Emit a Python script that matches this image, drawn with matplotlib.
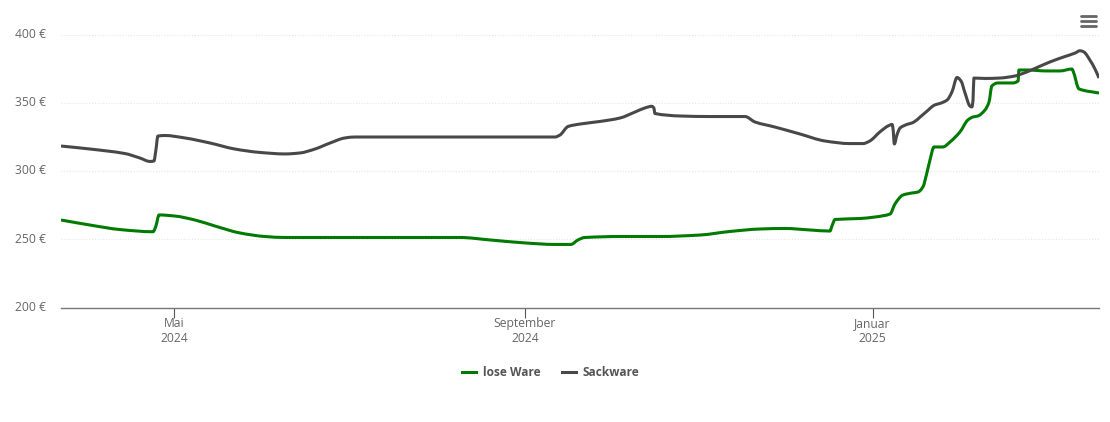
import matplotlib
matplotlib.use('Agg')
import numpy as np
import matplotlib.pyplot as plt
from matplotlib.lines import Line2D
from matplotlib.path import Path
from matplotlib.patches import PathPatch

plt.rcParams['font.family'] = ['Open Sans', 'DejaVu Sans']

# x values are days counted from 1 May 2024
days_sack = [-39.8, -29.6, -17.4, -12.1, -8.6, -7.2, -6.5, -5.8, -3.3, 3.7, 12.5, 21.2, 30.0, 38.8, 44.0,
             49.3, 54.6, 59.8, 63.3, 79.1, 133.5, 135.3, 138.1, 142.3, 149.3, 156.3, 161.6, 165.1, 167.5,
             168.2, 168.6, 177.4, 187.9, 200.2, 203.7, 210.7, 219.5, 228.2, 237.0, 241.6, 244.0, 247.5,
             250.4, 251.8, 252.1, 252.6, 253.5, 254.6, 257.4, 258.8, 263.3, 266.8, 268.6, 271.1, 272.8,
             274.6, 276.0, 277.4, 279.1, 279.8, 280.2, 280.5, 284.4, 289.6, 294.9, 296.7, 301.9, 307.2,
             312.5, 316.0, 317.7, 319.1, 321.2, 323.0, 324.4]
sackware = [318.3, 316.1, 312.8, 309.5, 307.0, 307.3, 315.4, 325.6, 326.0, 324.2, 320.5, 316.1, 313.6, 312.5, 313.2,
            316.1, 320.5, 324.2, 324.9, 324.9, 324.9, 326.4, 332.6, 334.4, 336.3, 338.8, 343.2, 346.2, 347.4,
            346.2, 342.1, 340.3, 339.9, 339.9, 335.9, 332.2, 327.1, 322.0, 320.1, 320.1, 322.0, 328.6,
            333.0, 334.1, 331.5, 319.8, 326.4, 331.5, 334.4, 335.2, 342.5, 348.4, 349.5, 352.0, 357.9,
            368.5, 365.9, 357.1, 347.6, 346.9, 352.0, 368.1, 367.8, 368.1, 369.6, 370.7, 375.1, 379.9,
            383.9, 386.4, 388.1, 387.2, 381.3, 374.7, 368.1]

days_lose = [-39.8, -29.6, -19.1, -7.5, -6.5, -5.4, 0.2, 7.2, 14.2, 23.0, 31.8, 38.8, 100.2, 110.7, 123.0,
             133.5, 139.1, 141.6, 144.0, 156.3, 170.4, 184.4, 194.9, 205.4, 214.2, 223.0, 230.0, 230.7,
             231.8, 240.5, 245.8, 251.1, 252.8, 255.6, 258.8, 260.9, 262.6, 264.0, 265.1, 266.5, 269.6,
             272.1, 275.6, 278.4, 280.2, 281.9, 284.4, 285.8, 286.8, 288.9, 294.2, 296.0, 296.3, 299.1,
             306.1, 310.7, 314.9, 315.3, 317.4, 324.4]
lose_ware = [264.1, 260.4, 257.1, 255.5, 259.7, 267.8, 267.0, 264.1, 259.7, 254.6, 252.0, 251.3, 251.3, 249.5, 247.3,
             246.2, 246.2, 249.5, 251.3, 252.0, 252.0, 253.1, 255.7, 257.5, 257.9, 256.8, 256.0, 259.7,
             264.5, 265.2, 266.3, 268.5, 275.8, 282.4, 283.9, 284.6, 288.3, 298.5, 308.1, 317.6, 317.6,
             321.2, 328.6, 337.4, 339.6, 340.3, 344.7, 350.5, 362.3, 364.5, 364.5, 365.9, 374.0, 374.0,
             373.3, 373.3, 374.7, 373.3, 360.1, 357.1]

month_days = [0, 123, 245]
month_labels = ['Mai\n2024', 'September\n2024', 'Januar\n2025']
y_ticks = [200, 250, 300, 350, 400]

GREEN = '#007a00'
GREY = '#484848'
LW = 2.2


def spline_path(xs, ys):
    # bezier through the points, flat at turning points so nothing overshoots
    xs = np.array(xs)
    ys = np.array(ys)
    h = np.diff(xs)
    s = np.diff(ys) / h
    m = np.zeros(len(xs))
    for i in range(1, len(xs) - 1):
        if s[i - 1] * s[i] > 0:
            m[i] = 2 * s[i - 1] * s[i] / (s[i - 1] + s[i])
    m[0] = s[0]
    m[-1] = s[-1]
    verts = [(xs[0], ys[0])]
    codes = [Path.MOVETO]
    for i in range(len(h)):
        verts.append((xs[i] + h[i] / 3, ys[i] + m[i] * h[i] / 3))
        verts.append((xs[i + 1] - h[i] / 3, ys[i + 1] - m[i + 1] * h[i] / 3))
        verts.append((xs[i + 1], ys[i + 1]))
        codes += [Path.CURVE4] * 3
    return Path(verts, codes)


fig = plt.figure(figsize=(11.1, 4.22), dpi=100)
ax = fig.add_axes([61 / 1110, 1 - 307.5 / 422, 1038 / 1110, 273 / 422])

ax.add_patch(PathPatch(spline_path(days_lose, lose_ware), fill=False, edgecolor=GREEN, lw=LW, joinstyle='round'))
ax.add_patch(PathPatch(spline_path(days_sack, sackware), fill=False, edgecolor=GREY, lw=LW, joinstyle='round'))

ax.set_xlim(-39.8, 324.4)
ax.set_ylim(200, 400)
ax.set_yticks(y_ticks)
ax.set_yticklabels([f'{v} €' for v in y_ticks], fontsize=8.7, color='#666666', va='center')
ax.set_xticks(month_days)
ax.set_xticklabels(month_labels, fontsize=8.7, color='#666666', linespacing=1.15)
ax.tick_params(axis='y', length=0, pad=10.5)
ax.tick_params(axis='x', length=7, width=0.8, color='#555555', pad=0)
ax.grid(axis='y', color='#e6e6e6', lw=0.8, ls=(0, (1, 1.5)))
ax.set_axisbelow(True)

for side in ['top', 'left', 'right']:
    ax.spines[side].set_visible(False)
ax.spines['bottom'].set_color('#777777')
ax.spines['bottom'].set_linewidth(1.0)

handles = [Line2D([], [], color=GREEN, lw=LW, label='lose Ware'),
           Line2D([], [], color=GREY, lw=LW, label='Sackware')]
leg = ax.legend(handles=handles, loc='center', bbox_to_anchor=(551 / 1110, 1 - 372.5 / 422),
                bbox_transform=fig.transFigure, ncol=2, frameon=False, handlelength=1.17,
                handletextpad=0.58, columnspacing=1.75, prop={'size': 8.6, 'weight': 'bold'})
for t in leg.get_texts():
    t.set_color('#555555')

# menu icon, top right
for py in [16, 21, 26]:
    fig.add_artist(Line2D([1081 / 1110, 1096 / 1110], [1 - py / 422, 1 - py / 422], color='#666666', lw=2.0,
                          solid_capstyle='round'))

plt.savefig('out.png', dpi=100)
